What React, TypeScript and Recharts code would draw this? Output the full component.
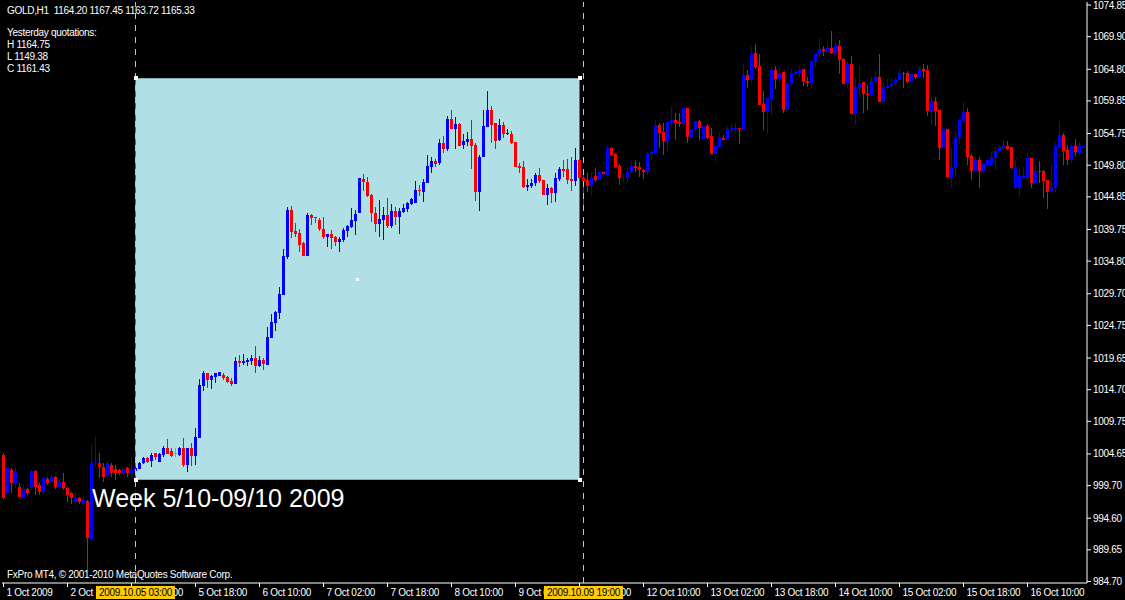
import {
  Bar,
  ComposedChart,
  ReferenceArea,
  ReferenceDot,
  ReferenceLine,
  XAxis,
  YAxis,
} from "recharts";

// GOLD H1 bars, 1 Oct 2009 .. 16 Oct 2009
const OPEN = [
  1004.5, 998.5, 1002.1, 1000.1, 999.5, 997.9, 999.2, 999.3, 1002.0, 999.8,
  998.7, 1000.7, 1000.2, 1001.0, 999.5, 1000.2, 999.3, 998.5, 997.1, 997.7,
  996.9, 997.3, 991.3, 1003.2, 1003.2, 1002.6, 1001.2, 1002.9, 1002.3, 1002.1,
  1001.6, 1002.4, 1001.6, 1002.0, 1002.3, 1003.2, 1004.0, 1003.5, 1004.8, 1003.4,
  1004.5, 1005.6, 1005.1, 1004.8, 1004.5, 1005.6, 1002.9, 1005.6, 1004.3, 1007.1,
  1015.3, 1017.3, 1016.2, 1016.7, 1016.8, 1017.0, 1016.7, 1016.1, 1015.6, 1019.2,
  1018.9, 1019.0, 1019.2, 1019.6, 1018.4, 1019.3, 1018.6, 1022.8, 1025.1, 1026.7,
  1029.5, 1035.4, 1042.8, 1039.5, 1039.2, 1037.6, 1035.6, 1042.0, 1041.7, 1041.2,
  1039.8, 1038.6, 1039.0, 1038.6, 1037.8, 1038.1, 1039.5, 1040.1, 1041.1, 1042.3,
  1047.6, 1047.2, 1045.1, 1042.3, 1040.6, 1041.2, 1042.0, 1040.3, 1042.6, 1041.7,
  1042.5, 1042.9, 1043.7, 1043.9, 1045.9, 1045.6, 1047.0, 1049.5, 1050.5, 1050.2,
  1053.3, 1052.3, 1057.0, 1055.5, 1056.2, 1053.0, 1053.4, 1053.9, 1053.0, 1045.6,
  1051.1, 1055.8, 1058.4, 1056.4, 1053.7, 1056.1, 1054.7, 1054.7, 1053.4, 1049.7,
  1049.5, 1046.4, 1046.5, 1047.0, 1048.3, 1047.5, 1045.1, 1046.2, 1045.4, 1047.6,
  1049.2, 1049.2, 1047.6, 1047.3, 1050.6, 1047.8, 1047.5, 1046.6, 1048.1, 1047.5,
  1048.7, 1048.3, 1052.5, 1051.6, 1049.7, 1047.8, 1047.8, 1048.7, 1049.7, 1049.5,
  1049.1, 1048.9, 1051.6, 1051.7, 1056.1, 1055.0, 1053.6, 1056.4, 1056.9, 1056.6,
  1056.2, 1058.7, 1054.2, 1055.5, 1056.7, 1053.9, 1055.9, 1054.4, 1051.5, 1052.6,
  1054.1, 1053.9, 1055.5, 1055.5, 1055.6, 1055.5, 1063.9, 1063.1, 1067.4, 1065.3,
  1059.4, 1058.1, 1060.2, 1064.7, 1063.3, 1064.4, 1058.4, 1062.7, 1064.1, 1064.2,
  1064.8, 1063.0, 1062.7, 1065.9, 1067.2, 1068.0, 1067.5, 1068.1, 1067.4, 1068.4,
  1066.4, 1062.5, 1065.6, 1058.0, 1061.9, 1062.8, 1060.9, 1060.8, 1062.8, 1063.6,
  1059.7, 1061.9, 1062.2, 1062.5, 1063.1, 1064.2, 1064.2, 1062.8, 1064.1, 1063.6,
  1064.8, 1064.7, 1058.3, 1059.8, 1058.4, 1052.5, 1055.5, 1047.9, 1049.4, 1054.1,
  1056.7, 1058.1, 1051.2, 1048.9, 1050.6, 1048.9, 1049.8, 1049.8, 1050.9, 1052.0,
  1052.5, 1052.8, 1052.7, 1046.2, 1046.2, 1047.8, 1047.8, 1050.9, 1047.0, 1048.9,
  1048.9, 1047.5, 1045.8, 1046.2, 1052.6, 1054.5, 1052.2, 1050.6, 1052.8, 1051.7,
  1052.5,
];

const HIGH = [
  1004.8, 1002.6, 1002.4, 1002.6, 1000.1, 999.8, 999.4, 1002.2, 1002.1, 1000.1,
  1001.1, 1001.0, 1001.4, 1001.2, 1000.6, 1001.6, 999.5, 998.7, 998.7, 997.9,
  997.9, 997.4, 1006.0, 1007.3, 1004.8, 1003.2, 1003.5, 1003.2, 1002.9, 1002.3,
  1002.4, 1002.6, 1004.0, 1002.6, 1003.4, 1004.2, 1004.2, 1004.8, 1004.8, 1004.8,
  1005.9, 1007.0, 1005.6, 1005.6, 1005.7, 1007.1, 1005.6, 1006.4, 1008.7, 1016.4,
  1017.6, 1017.3, 1017.0, 1017.3, 1017.5, 1017.3, 1016.8, 1016.5, 1019.8, 1020.1,
  1020.3, 1019.6, 1020.1, 1021.5, 1019.9, 1019.6, 1024.5, 1026.5, 1027.0, 1030.8,
  1036.7, 1043.3, 1043.4, 1040.8, 1039.8, 1037.8, 1042.3, 1042.2, 1041.7, 1041.5,
  1041.7, 1039.0, 1039.7, 1038.7, 1038.6, 1040.0, 1040.4, 1043.1, 1042.8, 1047.8,
  1048.4, 1048.0, 1045.3, 1043.3, 1044.4, 1043.3, 1044.7, 1043.7, 1043.3, 1043.1,
  1043.7, 1044.0, 1044.7, 1047.3, 1046.7, 1047.6, 1051.4, 1051.1, 1050.8, 1053.9,
  1054.4, 1057.5, 1058.4, 1057.3, 1056.4, 1054.7, 1055.0, 1056.9, 1053.3, 1051.4,
  1058.4, 1061.4, 1059.1, 1056.4, 1057.0, 1056.6, 1055.5, 1055.2, 1053.4, 1050.1,
  1050.5, 1047.6, 1047.6, 1048.6, 1049.4, 1047.5, 1046.9, 1046.4, 1048.6, 1049.5,
  1050.6, 1050.8, 1051.1, 1052.5, 1050.8, 1049.0, 1048.6, 1048.7, 1049.2, 1048.7,
  1048.7, 1053.0, 1052.7, 1051.7, 1050.0, 1048.4, 1049.4, 1050.5, 1050.6, 1050.3,
  1049.2, 1051.9, 1052.2, 1056.9, 1056.4, 1056.4, 1057.2, 1058.9, 1058.0, 1058.0,
  1058.7, 1058.7, 1055.5, 1056.7, 1056.9, 1055.9, 1056.2, 1055.6, 1053.3, 1054.8,
  1054.5, 1055.8, 1056.2, 1056.4, 1055.6, 1065.6, 1064.7, 1068.3, 1068.8, 1067.2,
  1061.4, 1060.3, 1065.2, 1065.3, 1065.2, 1064.4, 1062.7, 1064.8, 1064.7, 1065.3,
  1064.8, 1063.6, 1066.1, 1067.2, 1069.7, 1068.4, 1069.2, 1070.8, 1069.2, 1069.4,
  1066.6, 1065.9, 1066.9, 1063.4, 1065.3, 1062.8, 1062.3, 1063.6, 1064.5, 1067.2,
  1062.7, 1063.3, 1063.3, 1063.4, 1064.8, 1064.4, 1064.5, 1064.1, 1064.1, 1065.2,
  1065.6, 1065.5, 1060.6, 1060.5, 1058.4, 1055.8, 1055.5, 1052.5, 1055.0, 1056.9,
  1059.7, 1058.7, 1051.5, 1051.2, 1051.1, 1050.1, 1050.6, 1051.9, 1052.8, 1053.0,
  1053.7, 1053.6, 1052.7, 1050.6, 1049.4, 1049.5, 1051.7, 1050.9, 1049.8, 1050.5,
  1049.0, 1047.5, 1050.0, 1053.3, 1056.7, 1054.8, 1053.0, 1053.1, 1053.9, 1053.4,
  1052.8,
];

const LOW = [
  997.6, 998.2, 998.5, 999.3, 997.9, 997.8, 998.3, 999.0, 998.2, 998.2,
  998.4, 999.8, 999.9, 999.2, 999.1, 999.0, 997.1, 996.9, 996.8, 996.8,
  996.8, 986.5, 991.2, 1002.6, 1000.9, 1000.2, 1000.9, 1001.0, 1000.6, 1001.3,
  1001.3, 1001.0, 1000.9, 1001.8, 1002.3, 1003.1, 1003.2, 1002.6, 1003.7, 1003.4,
  1004.2, 1004.6, 1004.2, 1004.2, 1004.3, 1002.6, 1001.8, 1002.7, 1002.9, 1007.1,
  1014.5, 1015.0, 1014.8, 1015.7, 1016.8, 1016.2, 1015.7, 1015.3, 1015.6, 1018.2,
  1018.5, 1018.4, 1018.5, 1017.3, 1018.2, 1017.8, 1018.6, 1022.8, 1023.9, 1025.8,
  1029.5, 1035.1, 1038.4, 1038.6, 1036.2, 1035.6, 1035.6, 1040.4, 1040.8, 1039.5,
  1038.3, 1037.0, 1036.7, 1037.2, 1036.2, 1037.8, 1038.6, 1040.0, 1038.9, 1042.3,
  1045.8, 1044.8, 1040.9, 1039.4, 1038.6, 1038.1, 1040.0, 1040.0, 1040.4, 1039.0,
  1042.3, 1042.5, 1043.6, 1043.9, 1045.0, 1044.0, 1047.0, 1048.6, 1049.5, 1049.8,
  1051.7, 1052.0, 1055.5, 1052.3, 1052.8, 1052.3, 1052.8, 1049.2, 1044.2, 1042.6,
  1051.1, 1055.8, 1053.3, 1052.3, 1053.6, 1054.1, 1054.5, 1053.1, 1049.5, 1048.6,
  1046.2, 1045.8, 1046.2, 1046.5, 1047.0, 1045.1, 1043.6, 1043.9, 1044.0, 1047.3,
  1047.9, 1046.9, 1045.8, 1046.5, 1047.6, 1043.6, 1045.6, 1045.0, 1047.2, 1047.5,
  1048.4, 1047.9, 1051.2, 1049.4, 1046.7, 1047.2, 1047.0, 1048.6, 1048.7, 1047.9,
  1047.6, 1048.3, 1050.6, 1051.7, 1052.5, 1051.4, 1051.9, 1055.8, 1053.7, 1055.8,
  1055.8, 1053.3, 1054.2, 1055.0, 1053.7, 1053.9, 1053.9, 1051.5, 1050.5, 1052.6,
  1053.7, 1053.7, 1054.8, 1055.0, 1053.1, 1055.3, 1061.9, 1062.5, 1064.9, 1059.2,
  1055.3, 1054.7, 1057.6, 1061.7, 1062.7, 1058.0, 1058.4, 1062.2, 1063.9, 1063.6,
  1062.2, 1062.0, 1061.9, 1065.2, 1066.6, 1066.9, 1067.3, 1067.2, 1067.4, 1064.1,
  1062.5, 1061.9, 1057.8, 1056.1, 1060.3, 1058.0, 1058.4, 1060.6, 1062.3, 1059.7,
  1059.7, 1061.7, 1061.7, 1062.0, 1063.1, 1061.9, 1062.7, 1062.8, 1063.3, 1063.4,
  1063.4, 1057.5, 1056.1, 1055.9, 1050.6, 1052.5, 1047.8, 1046.2, 1048.1, 1053.1,
  1056.4, 1049.8, 1047.5, 1048.9, 1046.2, 1048.7, 1049.8, 1049.7, 1049.1, 1052.0,
  1052.3, 1052.2, 1049.2, 1046.1, 1044.8, 1047.5, 1047.5, 1046.2, 1046.9, 1047.0,
  1044.7, 1042.9, 1045.5, 1045.6, 1052.6, 1049.8, 1049.8, 1050.1, 1051.2, 1051.4,
  1052.5,
];

const CLOSE = [
  997.8, 1002.4, 1000.1, 1001.8, 997.9, 999.2, 998.5, 1002.0, 999.5, 998.7,
  1000.9, 1000.1, 1001.0, 999.5, 1000.2, 999.3, 998.2, 997.7, 997.7, 997.1,
  997.4, 991.5, 1003.2, 1003.4, 1002.6, 1001.0, 1003.2, 1001.6, 1001.6, 1001.6,
  1002.3, 1001.6, 1002.3, 1002.4, 1003.2, 1004.0, 1003.4, 1004.5, 1004.2, 1004.6,
  1005.6, 1004.6, 1004.3, 1004.8, 1005.6, 1002.9, 1005.6, 1004.3, 1007.3, 1015.4,
  1017.3, 1016.2, 1016.8, 1017.3, 1017.5, 1016.5, 1015.9, 1015.6, 1019.2, 1018.9,
  1019.2, 1019.3, 1019.6, 1018.4, 1019.3, 1018.7, 1022.9, 1025.3, 1026.8, 1029.7,
  1035.6, 1042.8, 1039.4, 1039.0, 1037.3, 1035.6, 1042.0, 1041.5, 1041.5, 1039.8,
  1038.6, 1039.0, 1038.4, 1037.8, 1038.3, 1039.7, 1040.3, 1041.2, 1042.2, 1047.8,
  1047.2, 1045.0, 1042.3, 1040.6, 1041.4, 1042.0, 1040.3, 1042.6, 1041.7, 1042.6,
  1043.1, 1043.9, 1044.5, 1045.9, 1045.8, 1047.2, 1049.7, 1050.5, 1050.0, 1053.3,
  1052.3, 1057.0, 1055.5, 1056.2, 1052.8, 1053.6, 1053.9, 1052.8, 1045.6, 1051.1,
  1055.9, 1058.4, 1056.1, 1053.6, 1056.1, 1054.7, 1054.8, 1053.3, 1049.5, 1049.4,
  1046.4, 1046.7, 1047.0, 1048.3, 1047.3, 1045.1, 1046.2, 1045.4, 1047.8, 1049.2,
  1048.9, 1047.5, 1047.3, 1050.6, 1047.8, 1047.3, 1046.6, 1047.9, 1047.5, 1048.7,
  1048.4, 1052.5, 1051.4, 1049.5, 1047.8, 1048.0, 1048.7, 1049.7, 1049.4, 1049.1,
  1048.7, 1051.6, 1051.9, 1056.1, 1054.8, 1053.6, 1056.6, 1056.9, 1056.4, 1056.2,
  1058.7, 1054.2, 1055.5, 1056.7, 1055.6, 1055.9, 1054.1, 1051.5, 1052.8, 1054.2,
  1053.7, 1055.5, 1055.6, 1055.6, 1055.5, 1063.9, 1063.1, 1067.2, 1065.2, 1059.2,
  1058.1, 1060.3, 1064.7, 1063.3, 1064.2, 1058.4, 1062.7, 1064.2, 1064.4, 1064.7,
  1062.8, 1062.7, 1066.1, 1067.2, 1068.0, 1067.7, 1068.1, 1067.4, 1068.4, 1066.3,
  1062.5, 1065.6, 1057.8, 1062.0, 1062.7, 1060.9, 1060.8, 1063.0, 1063.6, 1059.7,
  1062.0, 1062.2, 1062.5, 1063.1, 1064.2, 1064.1, 1062.8, 1064.1, 1063.6, 1064.8,
  1064.5, 1058.3, 1059.8, 1058.3, 1052.5, 1055.5, 1047.9, 1049.5, 1054.1, 1056.9,
  1058.1, 1051.1, 1048.9, 1050.6, 1048.9, 1050.0, 1050.6, 1051.1, 1052.0, 1052.7,
  1052.8, 1052.3, 1049.4, 1049.5, 1048.1, 1048.1, 1050.9, 1047.0, 1048.9, 1048.7,
  1047.3, 1045.6, 1046.4, 1052.8, 1054.5, 1052.0, 1050.6, 1052.8, 1051.9, 1052.9,
  1052.8,
];

// time axis: a label every 16 bars
const TICK_BARS = [0, 16, 32, 48, 64, 80, 96, 112, 128, 144, 160, 176, 192, 208, 224, 240, 256];
const TICK_LABELS = [
  "1 Oct 2009", "2 Oct 10:00", "5 Oct 02:00", "5 Oct 18:00", "6 Oct 10:00",
  "7 Oct 02:00", "7 Oct 18:00", "8 Oct 10:00", "9 Oct 02:00", "9 Oct 18:00",
  "12 Oct 10:00", "13 Oct 02:00", "13 Oct 18:00", "14 Oct 10:00", "15 Oct 02:00",
  "15 Oct 18:00", "16 Oct 10:00",
];

const PRICE_TICKS = [
  1074.85, 1069.9, 1064.8, 1059.85, 1054.75, 1049.8, 1044.85, 1039.75, 1034.8,
  1029.7, 1024.75, 1019.65, 1014.7, 1009.75, 1004.65, 999.7, 994.6, 989.65, 984.7,
];

// objects drawn on the chart: two vertical lines with time tags, the week box
const VLINE_BARS = [33, 145];
const VLINE_TAGS = ["2009.10.05 03:00", "2009.10.09 19:00"];
const WEEK_BOX = { x1: 33, x2: 144, y1: 1000.6, y2: 1063.4 };

const INFO_LINES = ["Yesterday quotations:", "H 1164.75", "L 1149.38", "C 1161.43"];

const FONT = "'Liberation Sans', Arial, sans-serif";
const BULL = "#0000ff";
const BEAR = "#ff0000";
const DOJI = "#00ff00";
const TAG = "#ffcc00";

const rows = OPEN.map((o, i) => ({
  i,
  open: o,
  high: HIGH[i],
  low: LOW[i],
  close: CLOSE[i],
}));

// tag ticks are put after the regular ones so they paint on top
const AXIS_TICKS = [...TICK_BARS, ...VLINE_BARS];

function Candle(props: any) {
  const { x, y, width, height, payload } = props;
  if (!payload || x == null) return null;
  const { open, high, low, close } = payload;
  const top = Math.min(y, y + height);
  const span = Math.abs(height);
  const cx = x + width / 2;
  const py = (p: number) =>
    high === low ? top : top + ((high - p) / (high - low)) * span;
  const color = close > open ? BULL : close < open ? BEAR : DOJI;
  const bTop = py(Math.max(open, close));
  const bBot = py(Math.min(open, close));
  return (
    <g shapeRendering="crispEdges">
      <line x1={cx} x2={cx} y1={top} y2={top + span} stroke={color} strokeWidth={1} />
      <rect x={cx - 1.5} y={bTop} width={3} height={Math.max(1, bBot - bTop)} fill={color} />
    </g>
  );
}

function DateTick(props: any) {
  const { x, y, payload } = props;
  const v = payload.value;
  const axisY = y - 6; // tickSize 4 + tickMargin 2
  const tag = VLINE_BARS.indexOf(v);
  if (tag >= 0) {
    return (
      <g>
        <rect x={x - 39.5} y={axisY + 3} width={79} height={13} fill={TAG} />
        <text
          x={x}
          y={axisY + 13}
          textAnchor="middle"
          fill="#000"
          fontSize={10}
          fontFamily={FONT}
          letterSpacing={-0.3}
        >
          {VLINE_TAGS[tag]}
        </text>
      </g>
    );
  }
  return (
    <g>
      <line x1={x} x2={x} y1={axisY} y2={axisY + 4} stroke="#fff" shapeRendering="crispEdges" />
      <text
        x={x + 3}
        y={y}
        dy="0.71em"
        fill="#fff"
        fontSize={10}
        fontFamily={FONT}
        letterSpacing={-0.3}
      >
        {TICK_LABELS[TICK_BARS.indexOf(v)]}
      </text>
    </g>
  );
}

const handle = (size: number) => (p: any) => (
  <rect
    x={p.cx - size / 2}
    y={p.cy - size / 2}
    width={size}
    height={size}
    fill="#ffffff"
    shapeRendering="crispEdges"
  />
);

export default function App() {
  const midX = (WEEK_BOX.x1 + WEEK_BOX.x2) / 2;
  const midY = (WEEK_BOX.y1 + WEEK_BOX.y2) / 2;
  return (
    <div
      style={{
        position: "fixed",
        left: 0,
        top: 0,
        width: 1125,
        height: 600,
        background: "#000",
        overflow: "hidden",
      }}
    >
      <ComposedChart
        width={1125}
        height={600}
        data={rows}
        margin={{ top: 2, right: 0, bottom: 0, left: 2 }}
      >
        <XAxis
          dataKey="i"
          type="number"
          domain={[-0.375, 270.875]}
          allowDataOverflow
          ticks={AXIS_TICKS}
          interval={0}
          tick={<DateTick />}
          tickSize={4}
          tickMargin={2}
          tickLine={false}
          height={17}
          axisLine={{ stroke: "#fff" }}
        />
        <XAxis
          xAxisId="top"
          orientation="top"
          type="number"
          domain={[-0.375, 270.875]}
          height={0}
          tick={false}
          tickLine={false}
          axisLine={{ stroke: "#fff" }}
        />
        <YAxis
          orientation="right"
          domain={[984.47, 1075.32]}
          allowDataOverflow
          ticks={PRICE_TICKS}
          interval={0}
          width={38}
          tickSize={4}
          tickMargin={2}
          tickFormatter={(v: number) => v.toFixed(2)}
          tick={{ fill: "#fff", fontSize: 10, fontFamily: FONT, letterSpacing: -0.3 }}
          axisLine={{ stroke: "#fff" }}
          tickLine={{ stroke: "#fff" }}
        />
        <YAxis
          yAxisId="left"
          orientation="left"
          domain={[0, 1]}
          width={0}
          tick={false}
          tickLine={false}
          axisLine={{ stroke: "#fff" }}
        />
        {VLINE_BARS.map((b) => (
          <ReferenceLine key={b} x={b} stroke={TAG} strokeDasharray="6 6" />
        ))}
        <ReferenceArea
          x1={WEEK_BOX.x1}
          x2={WEEK_BOX.x2}
          y1={WEEK_BOX.y1}
          y2={WEEK_BOX.y2}
          fill="#b0e0e6"
          fillOpacity={1}
          stroke="none"
        />
        <Bar
          dataKey={(d: any) => [d.low, d.high]}
          barSize={3}
          shape={<Candle />}
          isAnimationActive={false}
        />
        <ReferenceDot x={WEEK_BOX.x1} y={WEEK_BOX.y2} r={2} shape={handle(4)} />
        <ReferenceDot x={WEEK_BOX.x2} y={WEEK_BOX.y2} r={2} shape={handle(4)} />
        <ReferenceDot x={WEEK_BOX.x1} y={WEEK_BOX.y1} r={2} shape={handle(4)} />
        <ReferenceDot x={WEEK_BOX.x2} y={WEEK_BOX.y1} r={2} shape={handle(4)} />
        <ReferenceDot x={midX} y={midY} r={2} shape={handle(3)} />
      </ComposedChart>

      <svg
        width={1125}
        height={600}
        style={{ position: "absolute", left: 0, top: 0, pointerEvents: "none" }}
      >
        <g fill="#fff" fontFamily={FONT} fontSize={10} letterSpacing={-0.3}>
          <text x={7} y={14} style={{ whiteSpace: "pre" }}>
            {"GOLD,H1  1164.20 1167.45 1163.72 1165.33"}
          </text>
          {INFO_LINES.map((t, n) => (
            <text key={t} x={7} y={36 + n * 12}>
              {t}
            </text>
          ))}
          <text x={7} y={578}>
            FxPro MT4, © 2001-2010 MetaQuotes Software Corp.
          </text>
        </g>
        <text x={92} y={507} fill="#fff" fontFamily={FONT} fontSize={25}>
          Week 5/10-09/10 2009
        </text>
      </svg>
    </div>
  );
}
